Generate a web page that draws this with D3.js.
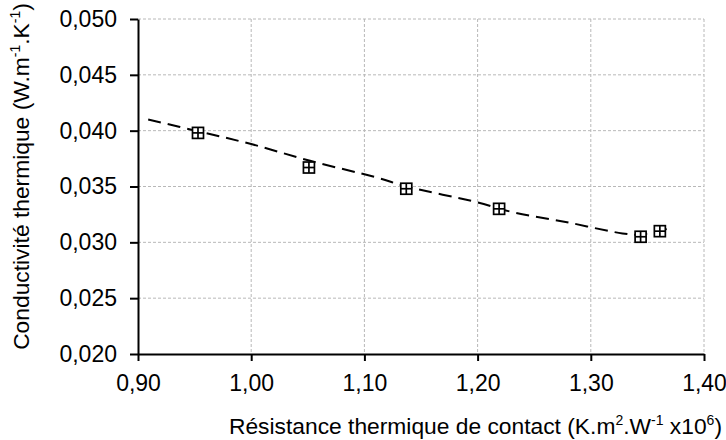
<!DOCTYPE html>
<html><head><meta charset="utf-8">
<script src="https://cdn.jsdelivr.net/npm/d3@7/dist/d3.min.js"></script>
<style>body{margin:0;background:#fff}svg{display:block}text{font-family:"Liberation Sans",Arial,sans-serif;fill:#000}</style>
</head><body><svg id="c" width="726" height="440"></svg>
<script>
const xTicks = [0.90, 1.00, 1.10, 1.20, 1.30, 1.40];
const yTicks = [0.020, 0.025, 0.030, 0.035, 0.040, 0.045, 0.050];
const pointX = [0.953, 1.051, 1.137, 1.219, 1.344, 1.361];
const pointY = [0.0398, 0.0367, 0.0348, 0.0330, 0.0305, 0.0310];
const trendX = [0.909, 0.955, 1.000, 1.052, 1.111, 1.137, 1.199, 1.231, 1.279, 1.328, 1.344, 1.367];
const trendY = [0.0410, 0.0399, 0.0388, 0.0373, 0.0358, 0.0350, 0.0336, 0.0327, 0.0318, 0.0308, 0.0307, 0.0312];

const FS = 22.8, TFS = 23;
const svg = d3.select("#c");
const x = d3.scaleLinear().domain([0.9, 1.4]).range([138, 704]);
const y = d3.scaleLinear().domain([0.020, 0.050]).range([354, 19]);
const fmt = d => d.toFixed(2).replace(".", ",");
const fmtY = d => d.toFixed(3).replace(".", ",");

// grid
const g = svg.append("g");
g.selectAll("line.vx").data(xTicks.slice(1)).join("line")
  .attr("x1", d => x(d)).attr("x2", d => x(d)).attr("y1", y(0.05)).attr("y2", y(0.02))
  .attr("stroke", "#b8b8b8").attr("stroke-width", 1).attr("stroke-dasharray", "3,2");
g.selectAll("line.hy").data(yTicks.slice(1)).join("line")
  .attr("y1", d => y(d)).attr("y2", d => y(d)).attr("x1", x(0.9)).attr("x2", x(1.4))
  .attr("stroke", "#b8b8b8").attr("stroke-width", 1).attr("stroke-dasharray", "3,2");

// axes
const xAxis = d3.axisBottom(x).tickValues(xTicks).tickFormat(fmt).tickSizeInner(7).tickSizeOuter(0).tickPadding(14);
const yAxis = d3.axisLeft(y).tickValues(yTicks).tickFormat(fmtY).tickSizeInner(8).tickSizeOuter(0).tickPadding(13);
const gx = svg.append("g").attr("transform", `translate(0,${y(0.02)})`).call(xAxis);
const gy = svg.append("g").attr("transform", `translate(${x(0.9)},0)`).call(yAxis);
[gx, gy].forEach(a => {
  a.select(".domain").attr("stroke", "#000").attr("stroke-width", 2);
  a.selectAll(".tick line").attr("stroke", "#000").attr("stroke-width", 2);
  a.selectAll(".tick text").attr("font-size", TFS).attr("font-family", "Liberation Sans, Arial, sans-serif").attr("fill", "#000");
});

// trend line
const pts = trendX.map((v, i) => [v, trendY[i]]);
svg.append("path").datum(pts)
  .attr("d", d3.line().x(d => x(d[0])).y(d => y(d[1])).curve(d3.curveCatmullRom))
  .attr("fill", "none").attr("stroke", "#000").attr("stroke-width", 2).attr("stroke-dasharray", "13,7");

// markers
const mk = svg.append("g").selectAll("g").data(pointX.map((v, i) => [v, pointY[i]])).join("g")
  .attr("transform", d => `translate(${x(d[0])},${y(d[1])})`);
const h = 5.5;
mk.append("rect").attr("x", -h).attr("y", -h).attr("width", 2*h).attr("height", 2*h)
  .attr("fill", "#fff").attr("stroke", "#000").attr("stroke-width", 1.7);
mk.append("line").attr("x1", -h).attr("x2", h).attr("y1", 0).attr("y2", 0).attr("stroke", "#000").attr("stroke-width", 1.7);
mk.append("line").attr("y1", -h).attr("y2", h).attr("x1", 0).attr("x2", 0).attr("stroke", "#000").attr("stroke-width", 1.7);

// titles
const SS = Math.round(FS*0.62), UP = Math.round(FS*0.4);
const xt = svg.append("text").attr("x", 722).attr("y", 434).attr("text-anchor", "end").attr("font-size", FS);
xt.append("tspan").text("Résistance thermique de contact (K.m");
xt.append("tspan").attr("dy", -UP).attr("font-size", SS).text("2");
xt.append("tspan").attr("dy", UP).text(".W");
xt.append("tspan").attr("dy", -UP).attr("font-size", SS).text("-1");
xt.append("tspan").attr("dy", UP).text(" x10");
xt.append("tspan").attr("dy", -UP).attr("font-size", SS).text("6");
xt.append("tspan").attr("dy", UP).text(")");

const yt = svg.append("text").attr("transform", `translate(29,${(y(0.02)+y(0.05))/2 - 10}) rotate(-90)`).attr("text-anchor", "middle").attr("font-size", FS);
yt.append("tspan").text("Conductivité thermique (W.m");
yt.append("tspan").attr("dy", -UP).attr("font-size", SS).text("-1");
yt.append("tspan").attr("dy", UP).text(".K");
yt.append("tspan").attr("dy", -UP).attr("font-size", SS).text("-1");
yt.append("tspan").attr("dy", UP).text(")");
</script></body></html>
